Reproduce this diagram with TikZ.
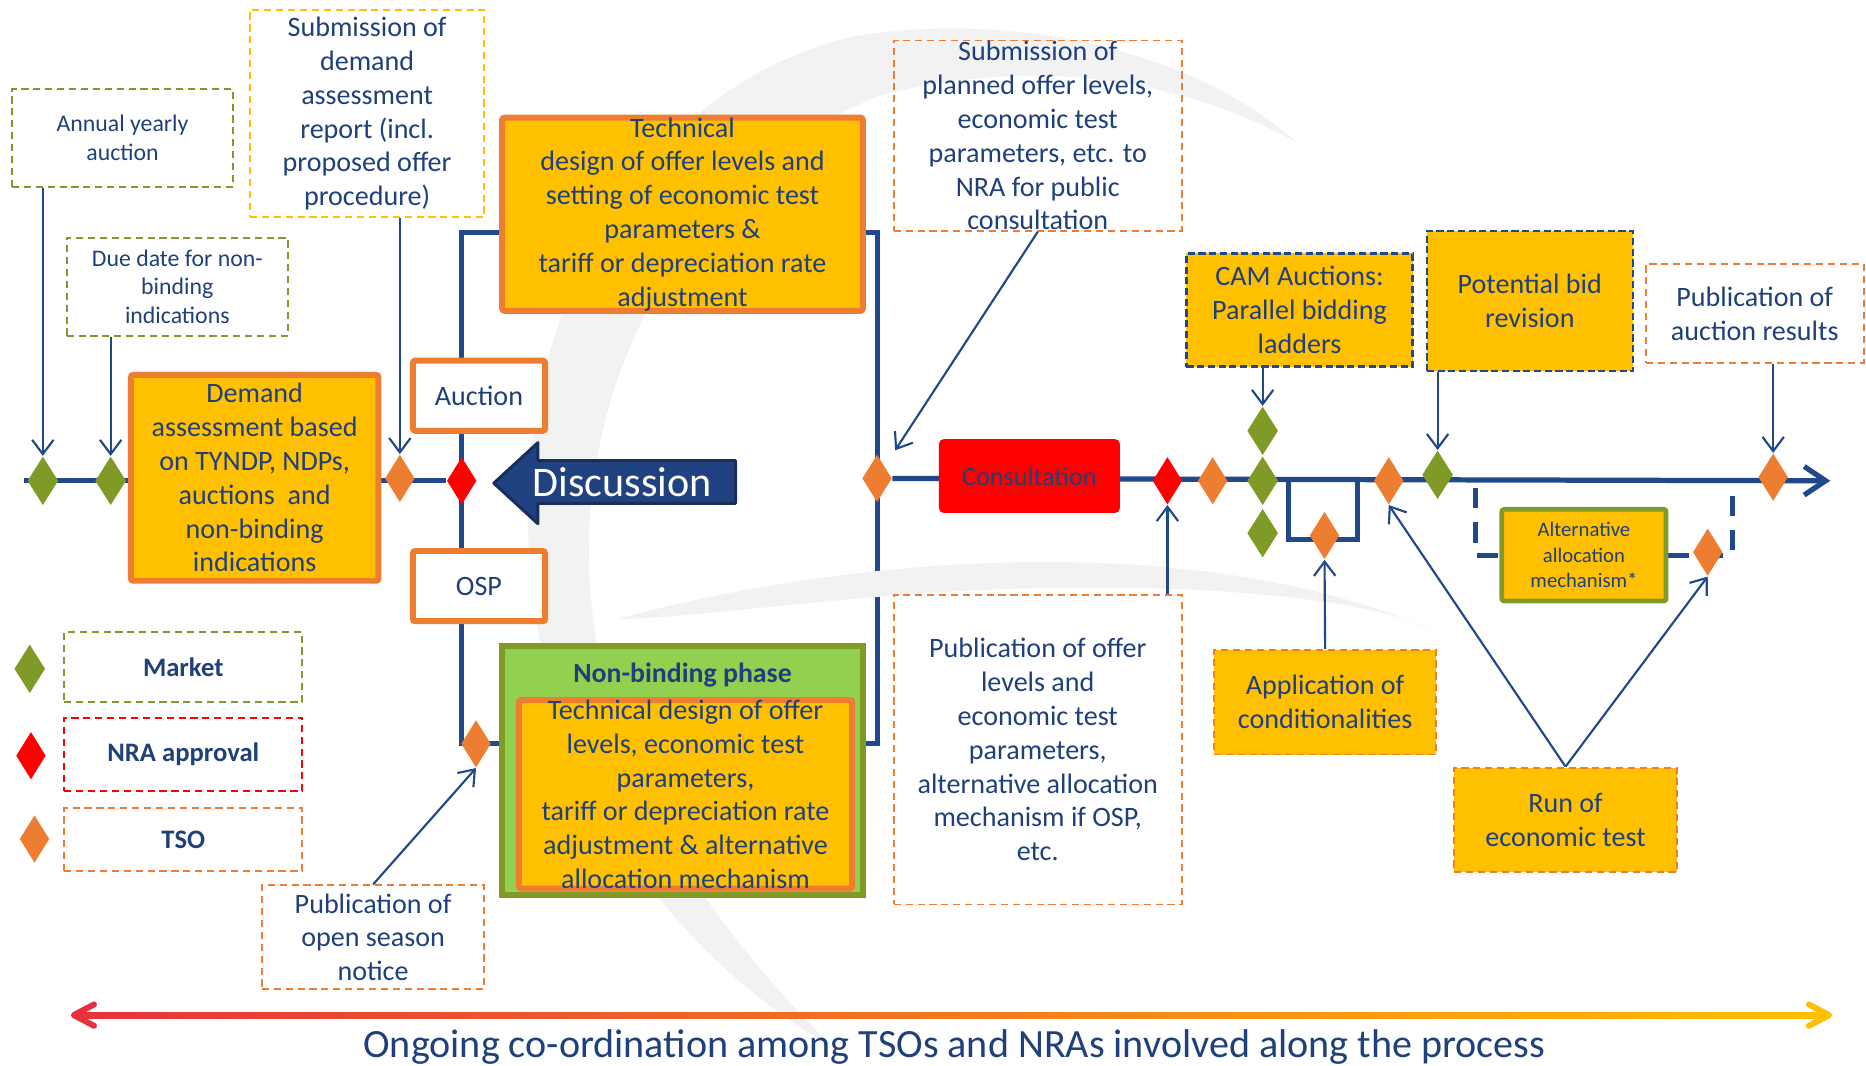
\documentclass[tikz,border=0pt]{standalone}
\usepackage{fontspec}
\setmainfont{Carlito}
\usepackage{tikz}
\usetikzlibrary{calc}
\usetikzlibrary{arrows.meta}
\usetikzlibrary{backgrounds}
\usetikzlibrary{shapes.geometric}
\definecolor{txtblue}{RGB}{31,64,122}
\definecolor{lineblue}{RGB}{33,72,138}
\definecolor{mktgreen}{RGB}{128,154,40}
\definecolor{tsoorange}{RGB}{237,125,49}
\definecolor{boxyellow}{RGB}{255,192,0}
\definecolor{phasegreen}{RGB}{146,208,80}
\definecolor{discblue}{RGB}{33,66,128}
\definecolor{discdark}{RGB}{24,46,92}
\definecolor{wmgray}{RGB}{242,242,242}
\newcommand\mainfnt{\fontsize{11.8}{14.2}\selectfont}
\newcommand\smallfnt{\fontsize{10}{12}\selectfont}
\newcommand\legfnt{\fontsize{11.2}{13}\selectfont\bfseries}
\newcommand\discfnt{\fontsize{17.7}{20}\selectfont}
\newcommand\botfnt{\fontsize{16.85}{19}\selectfont}
\newcommand\altfnt{\fontsize{8.7}{10.7}\selectfont}
\tikzset{>={Straight Barb[length=6pt,width=9pt]}}
\tikzset{
  market/.style={diamond,fill=mktgreen,inner sep=0pt,minimum width=13pt,minimum height=20.5pt},
  nra/.style={market,fill=red,minimum width=12.5pt,minimum height=20pt},
  tso/.style={market,fill=tsoorange,minimum width=12.5pt,minimum height=20pt},
  gnote/.style={draw=mktgreen,dash pattern=on 3pt off 2pt,line width=0.8pt,align=center,text=txtblue,inner sep=0pt,font=\mainfnt},
  ynote/.style={gnote,draw=boxyellow},
  onote/.style={gnote,draw=tsoorange},
  rnote/.style={gnote,draw=red},
  bnote/.style={gnote,draw=lineblue,fill=boxyellow,line width=1pt,dash pattern=on 3pt off 1.5pt},
  taskbox/.style={draw=tsoorange,fill=boxyellow,line width=2.5pt,rounded corners=1pt,align=center,text=txtblue,inner sep=0pt,font=\mainfnt},
  optbox/.style={taskbox,fill=white},
  tline/.style={draw=lineblue,line width=2.2pt},
  frame/.style={draw=lineblue,line width=2.1pt},
  conn/.style={draw=lineblue,line width=0.9pt},
}

\begin{document}
\begin{tikzpicture}[x=0.5pt,y=-0.5pt]
	\useasboundingbox (0,0) rectangle (1568,895);
	\fill[wmgray] (1090,120) .. controls (1000,40) and (850,10) .. (720,30) .. controls (540,70) and (430,260) .. (445,470) .. controls (455,650) and (560,800) .. (700,880) .. controls (600,780) and (490,640) .. (495,450) .. controls (500,290) and (590,140) .. (740,80) .. controls (880,45) and (1000,70) .. (1090,120) -- cycle;
	\fill[wmgray] (520,520) .. controls (700,470) and (1000,440) .. (1205,530) .. controls (1150,500) and (950,480) .. (700,505) .. controls (620,512) and (560,520) .. (520,520) -- cycle;

	\node[market] (g1) at (36,404) {};
	\node[market] (g2) at (93,404) {};
	\node[tso] (o1) at (336,402) {};
	\node[nra] (r1) at (388,404) {};
	\node[tso] (o2) at (737,402) {};
	\node[nra] (r2) at (981,404) {};
	\node[tso] (o3) at (1019,404) {};
	\node[market] (g3) at (1061,362) {};
	\node[market] (g4) at (1061,404) {};
	\node[market] (g5) at (1061,448) {};
	\node[tso] (o4) at (1113,450) {};
	\node[tso] (o5) at (1167,404) {};
	\node[market] (g6) at (1208,399) {};
	\node[tso] (o6) at (1490,401) {};
	\node[tso] (o7) at (400,625) {};
	\node[tso] (o8) at (1435,464) {};

	\node[gnote,font=\smallfnt,minimum width=93pt,minimum height=41pt] (annual) at (103,116) {Annual yearly\\auction};
	\node[gnote,font=\smallfnt,minimum width=93pt,minimum height=41pt] (due) at (149,241) {Due date for non-\\binding\\indications};
	\node[ynote,minimum width=98.5pt,minimum height=87pt] (subdem) at (308.5,95.5) {Submission of\\demand\\assessment\\report (incl.\\proposed offer\\procedure)};
	\node[taskbox,minimum width=151.5pt,minimum height=81pt] (techdes) at (573.5,180) {Technical\\design of offer levels and\\setting of economic test\\parameters \&\\tariff or depreciation rate\\adjustment};
	\node[onote,minimum width=121pt,minimum height=80pt] (subplan) at (872,114) {Submission of\\planned offer levels,\\economic test\\parameters, etc. to\\NRA for public\\consultation};
	\node[bnote,minimum width=95pt,minimum height=47.5pt] (cam) at (1092,260.5) {CAM Auctions:\\Parallel bidding\\ladders};
	\node[bnote,minimum width=86.5pt,minimum height=59pt] (potbid) at (1285.5,253) {Potential bid\\revision};
	\node[onote,minimum width=91.5pt,minimum height=41.5pt] (pubres) at (1474.5,263.5) {Publication of\\auction results};
	\node[taskbox,minimum width=104pt,minimum height=86.5pt] (demand) at (214,401.5) {Demand\\assessment based\\on TYNDP, NDPs,\\auctions\ \ and\\non-binding\\indications};
	\node[optbox,minimum width=55.5pt,minimum height=29.5pt] (auction) at (402.5,332.5) {Auction};
	\node[optbox,minimum width=55.5pt,minimum height=29.5pt] (osp) at (402.5,492.5) {OSP};
	\node[fill=red,rounded corners=2pt,minimum width=76pt,minimum height=31pt,text=txtblue,font=\fontsize{11}{13}\selectfont] (consult) at (865,400) {Consultation};

	\fill[discblue,draw=discdark,line width=1.3pt,line join=round] (618,387) -- (452,387) -- (452,372) -- (415,406) -- (452,440) -- (452,423) -- (618,423) -- cycle;
	\node[text=white,font=\discfnt] (disc) at (523,405) {Discussion};

	\node[draw=mktgreen,fill=phasegreen,line width=2.5pt,minimum width=151.5pt,minimum height=104.5pt] (nonbind) at (573.5,647.5) {};
	\node[text=txtblue,font=\fontsize{11.7}{14}\selectfont\bfseries] (nbtitle) at (573.5,567) {Non-binding phase};
	\node[taskbox,minimum width=140pt,minimum height=77.5pt] (nbtask) at (576,667.5) {Technical design of offer\\levels, economic test\\parameters,\\tariff or depreciation rate\\adjustment \& alternative\\allocation mechanism};
	\node[onote,minimum width=121pt,minimum height=130pt] (puboff) at (872,630) {Publication of offer\\levels and\\economic test\\parameters,\\alternative allocation\\mechanism if OSP,\\etc.};
	\node[onote,fill=boxyellow,minimum width=93.5pt,minimum height=44pt] (appcond) at (1113.5,590) {Application of\\conditionalities};
	\node[onote,fill=boxyellow,minimum width=93.5pt,minimum height=44pt] (runtest) at (1315.5,689) {Run of\\economic test};
	\node[draw=mktgreen,fill=boxyellow,line width=2pt,rounded corners=1pt,align=center,text=txtblue,inner sep=0pt,font=\altfnt,minimum width=69pt,minimum height=38.5pt] (altalloc) at (1331,466.5) {Alternative\\allocation\\mechanism*};
	\node[onote,minimum width=93.5pt,minimum height=43.5pt] (pubopen) at (313.5,787.5) {Publication of\\open season\\notice};

	\node[market] (legm) at (25,562) {};
	\node[nra] (legn) at (26,635) {};
	\node[tso] (legt) at (29,705) {};
	\node[gnote,font=\legfnt,minimum width=100pt,minimum height=29.5pt] (legmarket) at (154,560.5) {Market};
	\node[rnote,font=\legfnt,minimum width=100pt,minimum height=31pt] (legnra) at (154,634) {NRA approval};
	\node[onote,font=\legfnt,minimum width=100pt,minimum height=26.5pt] (legtso) at (154,705.5) {TSO};

	\coordinate (tstart) at (20,404);
	\coordinate (tend) at (1538,404);
	\coordinate (fy) at (0,195);
	\coordinate (bk1) at (1083,404);
	\coordinate (bk2) at (1141,404);
	\coordinate (dk1) at (1240,404);
	\coordinate (dk2) at (1456,404);
	\begin{scope}[on background layer]
		\draw[tline] (tstart) -- (r1);
		\draw[tline,-{Straight Barb[length=9pt,width=12pt]}] (o2) -- (tend);
		\draw[frame] (techdes.west |- fy) -- (r1 |- fy) -- (r1 |- o7) -- (nonbind.west |- o7);
		\draw[frame] (techdes.east |- fy) -- (o2 |- fy) -- (o2 |- o7) -- (nonbind.east |- o7);
		\draw[frame] (bk1) |- ($(o4)+(0,3)$) -| (bk2);
		\draw[frame,dash pattern=on 8.5pt off 6pt] ($(dk1)+(0,6)$) |- (altalloc.west);
		\draw[frame,dash pattern=on 8.5pt off 6pt] (altalloc.east) -| ($(dk2)+(0,10)$);
	\end{scope}

	\draw[conn,->] (annual.south -| g1) -- (g1.north);
	\draw[conn,->] (due.south -| g2) -- (g2.north);
	\draw[conn,->] (subdem.south -| o1) -- (o1.north);
	\draw[conn,->,shorten >=8pt] (subplan.south) -- (o2.north east);
	\draw[conn,->] (cam.south -| g3) -- (g3.north);
	\draw[conn,->] (potbid.south -| g6) -- (g6.north);
	\draw[conn,->] (pubres.south -| o6) -- (o6.north);
	\draw[conn,->] (puboff.north -| r2) -- (r2.south);
	\draw[conn,->] (appcond.north) -- (o4.south);
	\draw[conn,->] (runtest.north) -- (o5.south);
	\draw[conn,->] (runtest.north) -- (o8.south);
	\draw[conn,->] (pubopen.north) -- (o7.south);

	\coordinate (cl) at (62,853);
	\coordinate (cr) at (1537,853);
	\shade[left color={rgb,255:red,230;green,50;blue,60},middle color={rgb,255:red,200;green,188;blue,205},right color=boxyellow] ($(cl)+(2,-2.5)$) rectangle ($(cr)+(-2,2.5)$);
	\draw[line width=2.5pt,line cap=round,line join=round,color={rgb,255:red,230;green,50;blue,60}] ($(cl)+(17,-9)$) -- (cl) -- ($(cl)+(17,9)$);
	\draw[line width=2.5pt,line cap=round,line join=round,color=boxyellow] ($(cr)+(-17,-9)$) -- (cr) -- ($(cr)+(-17,9)$);
	\node[text=txtblue,font=\botfnt,anchor=base] (coord) at (802,889) {Ongoing co-ordination among TSOs and NRAs involved along the process};
\end{tikzpicture}
\end{document}
